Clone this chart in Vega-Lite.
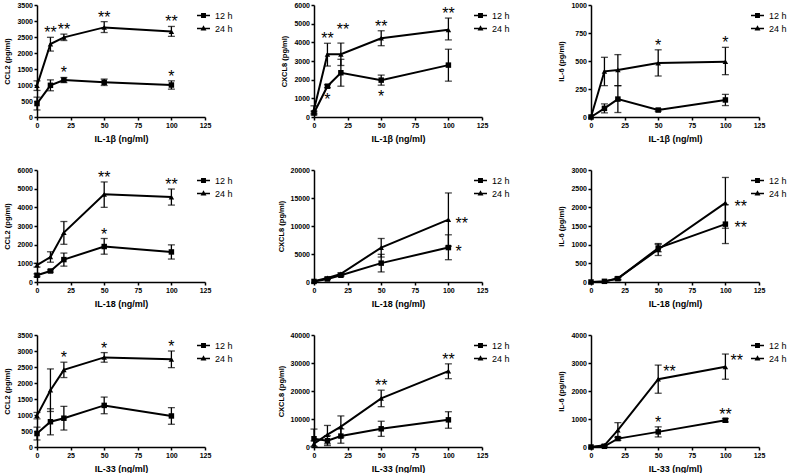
{
"$schema":"https://vega.github.io/schema/vega-lite/v6.json",
"padding":{"left":3,"top":1,"right":5,"bottom":5},
"background":"white",
"data":{"values":[
{"p":1,"s":"12 h","d":0,"m":420,"lo":220,"hi":620},
{"p":1,"s":"12 h","d":10,"m":990,"lo":820,"hi":1160},
{"p":1,"s":"12 h","d":20,"m":1155,"lo":1075,"hi":1235,"sig":"*","pos":"above"},
{"p":1,"s":"12 h","d":50,"m":1085,"lo":985,"hi":1185},
{"p":1,"s":"12 h","d":100,"m":1000,"lo":870,"hi":1130,"sig":"*","pos":"above"},
{"p":1,"s":"24 h","d":0,"m":980,"lo":830,"hi":1130},
{"p":1,"s":"24 h","d":10,"m":2280,"lo":2060,"hi":2490,"sig":"**","pos":"above"},
{"p":1,"s":"24 h","d":20,"m":2490,"lo":2390,"hi":2590,"sig":"**","pos":"above"},
{"p":1,"s":"24 h","d":50,"m":2800,"lo":2640,"hi":2980,"sig":"**","pos":"above"},
{"p":1,"s":"24 h","d":100,"m":2670,"lo":2520,"hi":2830,"sig":"**","pos":"above"},
{"p":2,"s":"12 h","d":0,"m":215,"lo":115,"hi":315},
{"p":2,"s":"12 h","d":10,"m":1650,"lo":1570,"hi":1730,"sig":"*","pos":"below"},
{"p":2,"s":"12 h","d":20,"m":2370,"lo":1650,"hi":3090},
{"p":2,"s":"12 h","d":50,"m":1975,"lo":1705,"hi":2245,"sig":"*","pos":"below"},
{"p":2,"s":"12 h","d":100,"m":2780,"lo":1920,"hi":3630},
{"p":2,"s":"24 h","d":0,"m":400,"lo":200,"hi":600},
{"p":2,"s":"24 h","d":10,"m":3360,"lo":2730,"hi":3950,"sig":"**","pos":"above"},
{"p":2,"s":"24 h","d":20,"m":3360,"lo":2760,"hi":3960,"sig":"**","pos":"above2"},
{"p":2,"s":"24 h","d":50,"m":4220,"lo":3820,"hi":4620,"sig":"**","pos":"above"},
{"p":2,"s":"24 h","d":100,"m":4670,"lo":4130,"hi":5300,"sig":"**","pos":"above"},
{"p":3,"s":"12 h","d":0,"m":0},
{"p":3,"s":"12 h","d":10,"m":77,"lo":37,"hi":117},
{"p":3,"s":"12 h","d":20,"m":160,"lo":40,"hi":280},
{"p":3,"s":"12 h","d":50,"m":62,"lo":52,"hi":72},
{"p":3,"s":"12 h","d":100,"m":152,"lo":102,"hi":202},
{"p":3,"s":"24 h","d":0,"m":0},
{"p":3,"s":"24 h","d":10,"m":408,"lo":280,"hi":533},
{"p":3,"s":"24 h","d":20,"m":420,"lo":280,"hi":557},
{"p":3,"s":"24 h","d":50,"m":482,"lo":366,"hi":600,"sig":"*","pos":"above"},
{"p":3,"s":"24 h","d":100,"m":494,"lo":378,"hi":622,"sig":"*","pos":"above"},
{"p":4,"s":"12 h","d":0,"m":360,"lo":280,"hi":440},
{"p":4,"s":"12 h","d":10,"m":590,"lo":530,"hi":650},
{"p":4,"s":"12 h","d":20,"m":1200,"lo":850,"hi":1550},
{"p":4,"s":"12 h","d":50,"m":1900,"lo":1490,"hi":2330,"sig":"*","pos":"above"},
{"p":4,"s":"12 h","d":100,"m":1610,"lo":1230,"hi":1990},
{"p":4,"s":"24 h","d":0,"m":900,"lo":800,"hi":1000},
{"p":4,"s":"24 h","d":10,"m":1340,"lo":1060,"hi":1620},
{"p":4,"s":"24 h","d":20,"m":2650,"lo":2020,"hi":3240},
{"p":4,"s":"24 h","d":50,"m":4700,"lo":4000,"hi":5360,"sig":"**","pos":"above"},
{"p":4,"s":"24 h","d":100,"m":4550,"lo":4120,"hi":4980,"sig":"**","pos":"above"},
{"p":5,"s":"12 h","d":0,"m":100},
{"p":5,"s":"12 h","d":10,"m":540,"lo":440,"hi":640},
{"p":5,"s":"12 h","d":20,"m":1200,"lo":1000,"hi":1400},
{"p":5,"s":"12 h","d":50,"m":3370,"lo":1800,"hi":4940},
{"p":5,"s":"12 h","d":100,"m":6150,"lo":3980,"hi":8430,"sig":"*","pos":"right"},
{"p":5,"s":"24 h","d":0,"m":150},
{"p":5,"s":"24 h","d":10,"m":720,"lo":570,"hi":870},
{"p":5,"s":"24 h","d":20,"m":1450,"lo":1250,"hi":1650},
{"p":5,"s":"24 h","d":50,"m":6150,"lo":4460,"hi":7770},
{"p":5,"s":"24 h","d":100,"m":11150,"lo":6400,"hi":15900,"sig":"**","pos":"right"},
{"p":6,"s":"12 h","d":0,"m":0},
{"p":6,"s":"12 h","d":10,"m":18},
{"p":6,"s":"12 h","d":20,"m":90,"lo":50,"hi":130},
{"p":6,"s":"12 h","d":50,"m":910,"lo":810,"hi":1010},
{"p":6,"s":"12 h","d":100,"m":1550,"lo":1030,"hi":2070,"sig":"**","pos":"right"},
{"p":6,"s":"24 h","d":0,"m":0},
{"p":6,"s":"24 h","d":10,"m":10},
{"p":6,"s":"24 h","d":20,"m":100,"lo":70,"hi":130},
{"p":6,"s":"24 h","d":50,"m":870,"lo":710,"hi":1030},
{"p":6,"s":"24 h","d":100,"m":2120,"lo":1440,"hi":2800,"sig":"**","pos":"right"},
{"p":7,"s":"12 h","d":0,"m":420,"lo":220,"hi":620},
{"p":7,"s":"12 h","d":10,"m":790,"lo":380,"hi":1195},
{"p":7,"s":"12 h","d":20,"m":900,"lo":530,"hi":1270},
{"p":7,"s":"12 h","d":50,"m":1300,"lo":1040,"hi":1560},
{"p":7,"s":"12 h","d":100,"m":970,"lo":710,"hi":1230},
{"p":7,"s":"24 h","d":0,"m":980,"lo":880,"hi":1080},
{"p":7,"s":"24 h","d":10,"m":1775,"lo":1110,"hi":2440},
{"p":7,"s":"24 h","d":20,"m":2410,"lo":2170,"hi":2650,"sig":"*","pos":"above"},
{"p":7,"s":"24 h","d":50,"m":2800,"lo":2650,"hi":2950,"sig":"*","pos":"above"},
{"p":7,"s":"24 h","d":100,"m":2740,"lo":2480,"hi":3000,"sig":"*","pos":"above"},
{"p":8,"s":"12 h","d":0,"m":2950,"lo":0,"hi":6400},
{"p":8,"s":"12 h","d":10,"m":2240,"lo":500,"hi":4000},
{"p":8,"s":"12 h","d":20,"m":3900,"lo":1350,"hi":6450},
{"p":8,"s":"12 h","d":50,"m":6500,"lo":3800,"hi":9200},
{"p":8,"s":"12 h","d":100,"m":9700,"lo":6700,"hi":12600},
{"p":8,"s":"24 h","d":0,"m":1200,"lo":200,"hi":2200},
{"p":8,"s":"24 h","d":10,"m":4400,"lo":1100,"hi":7700},
{"p":8,"s":"24 h","d":20,"m":7300,"lo":3500,"hi":11100},
{"p":8,"s":"24 h","d":50,"m":17350,"lo":14400,"hi":20300,"sig":"**","pos":"above"},
{"p":8,"s":"24 h","d":100,"m":27100,"lo":24400,"hi":29700,"sig":"**","pos":"above"},
{"p":9,"s":"12 h","d":0,"m":0},
{"p":9,"s":"12 h","d":10,"m":25},
{"p":9,"s":"12 h","d":20,"m":300,"lo":240,"hi":360},
{"p":9,"s":"12 h","d":50,"m":540,"lo":360,"hi":720,"sig":"*","pos":"above"},
{"p":9,"s":"12 h","d":100,"m":955,"lo":895,"hi":1015,"sig":"**","pos":"above"},
{"p":9,"s":"24 h","d":0,"m":0},
{"p":9,"s":"24 h","d":10,"m":60,"lo":30,"hi":90},
{"p":9,"s":"24 h","d":20,"m":600,"lo":330,"hi":870},
{"p":9,"s":"24 h","d":50,"m":2420,"lo":1920,"hi":2925,"sig":"**","pos":"upright"},
{"p":9,"s":"24 h","d":100,"m":2865,"lo":2420,"hi":3320,"sig":"**","pos":"upright"}
]},
"columns":3,
"bounds":"flush",
"spacing":{"row":53,"column":109},
"resolve":{"scale":{"shape":"independent"},"legend":{"shape":"independent"}},
"concat":[
{"width":168,"height":112,"transform":[{"filter":"datum.p==1"}],
 "encoding":{"x":{"field":"d","type":"quantitative","scale":{"domain":[0,125],"nice":false},"axis":{"values":[0,25,50,75,100,125],"title":"IL-1β (ng/ml)"}},
  "y":{"field":"m","type":"quantitative","scale":{"domain":[0,3500],"nice":false},"axis":{"values":[0,500,1000,1500,2000,2500,3000,3500],"format":"d","title":"CCL2 (pg/ml)"}}},
 "layer":[
  {"mark":{"type":"line","color":"black","strokeWidth":2},"encoding":{"detail":{"field":"s"}}},
  {"transform":[{"filter":"isValid(datum.lo)"}],"mark":{"type":"errorbar","ticks":true,"size":7,"thickness":1.3,"color":"black"},"encoding":{"y":{"field":"lo","type":"quantitative"},"y2":{"field":"hi"}}},
  {"mark":{"type":"point","filled":true,"size":30,"color":"black","opacity":1},"encoding":{"shape":{"condition":{"test":"datum.s=='12 h'","value":"square"},"value":"triangle-up"}}},
  {"transform":[{"filter":"datum.p<0"}],"mark":{"type":"point","filled":true,"color":"black","opacity":1},"encoding":{"shape":{"field":"s","type":"nominal","title":null,"scale":{"domain":["12 h","24 h"],"range":["M-1,-0.13H1V0.13H-1ZM-0.38,-0.38H0.38V0.38H-0.38Z","M-1,-0.13H1V0.13H-1ZM0,-0.5L0.45,0.32H-0.45Z"]},"legend":{"orient":"none","legendX":159,"legendY":3}}}},
  {"transform":[{"filter":"datum.pos=='above'"}],"mark":{"type":"text","fontSize":16,"baseline":"alphabetic","dy":1},"encoding":{"y":{"field":"hi","type":"quantitative"},"text":{"field":"sig"}}}
 ]},
{"width":168,"height":112,"transform":[{"filter":"datum.p==2"}],
 "encoding":{"x":{"field":"d","type":"quantitative","scale":{"domain":[0,125],"nice":false},"axis":{"values":[0,25,50,75,100,125],"title":"IL-1β (ng/ml)"}},
  "y":{"field":"m","type":"quantitative","scale":{"domain":[0,6000],"nice":false},"axis":{"values":[0,1000,2000,3000,4000,5000,6000],"format":"d","title":"CXCL8 (pg/ml)"}}},
 "layer":[
  {"mark":{"type":"line","color":"black","strokeWidth":2},"encoding":{"detail":{"field":"s"}}},
  {"transform":[{"filter":"isValid(datum.lo)"}],"mark":{"type":"errorbar","ticks":true,"size":7,"thickness":1.3,"color":"black"},"encoding":{"y":{"field":"lo","type":"quantitative"},"y2":{"field":"hi"}}},
  {"mark":{"type":"point","filled":true,"size":30,"color":"black","opacity":1},"encoding":{"shape":{"condition":{"test":"datum.s=='12 h'","value":"square"},"value":"triangle-up"}}},
  {"transform":[{"filter":"datum.p<0"}],"mark":{"type":"point","filled":true,"color":"black","opacity":1},"encoding":{"shape":{"field":"s","type":"nominal","title":null,"scale":{"domain":["12 h","24 h"],"range":["M-1,-0.13H1V0.13H-1ZM-0.38,-0.38H0.38V0.38H-0.38Z","M-1,-0.13H1V0.13H-1ZM0,-0.5L0.45,0.32H-0.45Z"]},"legend":{"orient":"none","legendX":159,"legendY":3}}}},
  {"transform":[{"filter":"datum.pos=='above'"}],"mark":{"type":"text","fontSize":16,"baseline":"alphabetic","dy":1},"encoding":{"y":{"field":"hi","type":"quantitative"},"text":{"field":"sig"}}},
  {"transform":[{"filter":"datum.pos=='above2'"}],"mark":{"type":"text","fontSize":16,"baseline":"alphabetic","dx":2,"dy":-8},"encoding":{"y":{"field":"hi","type":"quantitative"},"text":{"field":"sig"}}},
  {"transform":[{"filter":"datum.pos=='below'"}],"mark":{"type":"text","fontSize":16,"baseline":"alphabetic","dy":17},"encoding":{"y":{"field":"lo","type":"quantitative"},"text":{"field":"sig"}}}
 ]},
{"width":168,"height":112,"transform":[{"filter":"datum.p==3"}],
 "encoding":{"x":{"field":"d","type":"quantitative","scale":{"domain":[0,125],"nice":false},"axis":{"values":[0,25,50,75,100,125],"title":"IL-1β (ng/ml)"}},
  "y":{"field":"m","type":"quantitative","scale":{"domain":[0,1000],"nice":false},"axis":{"values":[0,250,500,750,1000],"format":"d","title":"IL-6 (pg/ml)"}}},
 "layer":[
  {"mark":{"type":"line","color":"black","strokeWidth":2},"encoding":{"detail":{"field":"s"}}},
  {"transform":[{"filter":"isValid(datum.lo)"}],"mark":{"type":"errorbar","ticks":true,"size":7,"thickness":1.3,"color":"black"},"encoding":{"y":{"field":"lo","type":"quantitative"},"y2":{"field":"hi"}}},
  {"mark":{"type":"point","filled":true,"size":30,"color":"black","opacity":1},"encoding":{"shape":{"condition":{"test":"datum.s=='12 h'","value":"square"},"value":"triangle-up"}}},
  {"transform":[{"filter":"datum.p<0"}],"mark":{"type":"point","filled":true,"color":"black","opacity":1},"encoding":{"shape":{"field":"s","type":"nominal","title":null,"scale":{"domain":["12 h","24 h"],"range":["M-1,-0.13H1V0.13H-1ZM-0.38,-0.38H0.38V0.38H-0.38Z","M-1,-0.13H1V0.13H-1ZM0,-0.5L0.45,0.32H-0.45Z"]},"legend":{"orient":"none","legendX":159,"legendY":3}}}},
  {"transform":[{"filter":"datum.pos=='above'"}],"mark":{"type":"text","fontSize":16,"baseline":"alphabetic","dy":1},"encoding":{"y":{"field":"hi","type":"quantitative"},"text":{"field":"sig"}}}
 ]},
{"width":168,"height":112,"transform":[{"filter":"datum.p==4"}],
 "encoding":{"x":{"field":"d","type":"quantitative","scale":{"domain":[0,125],"nice":false},"axis":{"values":[0,25,50,75,100,125],"title":"IL-18 (ng/ml)"}},
  "y":{"field":"m","type":"quantitative","scale":{"domain":[0,6000],"nice":false},"axis":{"values":[0,1000,2000,3000,4000,5000,6000],"format":"d","title":"CCL2 (pg/ml)"}}},
 "layer":[
  {"mark":{"type":"line","color":"black","strokeWidth":2},"encoding":{"detail":{"field":"s"}}},
  {"transform":[{"filter":"isValid(datum.lo)"}],"mark":{"type":"errorbar","ticks":true,"size":7,"thickness":1.3,"color":"black"},"encoding":{"y":{"field":"lo","type":"quantitative"},"y2":{"field":"hi"}}},
  {"mark":{"type":"point","filled":true,"size":30,"color":"black","opacity":1},"encoding":{"shape":{"condition":{"test":"datum.s=='12 h'","value":"square"},"value":"triangle-up"}}},
  {"transform":[{"filter":"datum.p<0"}],"mark":{"type":"point","filled":true,"color":"black","opacity":1},"encoding":{"shape":{"field":"s","type":"nominal","title":null,"scale":{"domain":["12 h","24 h"],"range":["M-1,-0.13H1V0.13H-1ZM-0.38,-0.38H0.38V0.38H-0.38Z","M-1,-0.13H1V0.13H-1ZM0,-0.5L0.45,0.32H-0.45Z"]},"legend":{"orient":"none","legendX":159,"legendY":3}}}},
  {"transform":[{"filter":"datum.pos=='above'"}],"mark":{"type":"text","fontSize":16,"baseline":"alphabetic","dy":1},"encoding":{"y":{"field":"hi","type":"quantitative"},"text":{"field":"sig"}}}
 ]},
{"width":168,"height":112,"transform":[{"filter":"datum.p==5"}],
 "encoding":{"x":{"field":"d","type":"quantitative","scale":{"domain":[0,125],"nice":false},"axis":{"values":[0,25,50,75,100,125],"title":"IL-18 (ng/ml)"}},
  "y":{"field":"m","type":"quantitative","scale":{"domain":[0,20000],"nice":false},"axis":{"values":[0,5000,10000,15000,20000],"format":"d","title":"CXCL8 (pg/ml)"}}},
 "layer":[
  {"mark":{"type":"line","color":"black","strokeWidth":2},"encoding":{"detail":{"field":"s"}}},
  {"transform":[{"filter":"isValid(datum.lo)"}],"mark":{"type":"errorbar","ticks":true,"size":7,"thickness":1.3,"color":"black"},"encoding":{"y":{"field":"lo","type":"quantitative"},"y2":{"field":"hi"}}},
  {"mark":{"type":"point","filled":true,"size":30,"color":"black","opacity":1},"encoding":{"shape":{"condition":{"test":"datum.s=='12 h'","value":"square"},"value":"triangle-up"}}},
  {"transform":[{"filter":"datum.p<0"}],"mark":{"type":"point","filled":true,"color":"black","opacity":1},"encoding":{"shape":{"field":"s","type":"nominal","title":null,"scale":{"domain":["12 h","24 h"],"range":["M-1,-0.13H1V0.13H-1ZM-0.38,-0.38H0.38V0.38H-0.38Z","M-1,-0.13H1V0.13H-1ZM0,-0.5L0.45,0.32H-0.45Z"]},"legend":{"orient":"none","legendX":159,"legendY":3}}}},
  {"transform":[{"filter":"datum.pos=='right'"}],"mark":{"type":"text","fontSize":16,"baseline":"alphabetic","align":"left","dx":7,"dy":9},"encoding":{"text":{"field":"sig"}}}
 ]},
{"width":168,"height":112,"transform":[{"filter":"datum.p==6"}],
 "encoding":{"x":{"field":"d","type":"quantitative","scale":{"domain":[0,125],"nice":false},"axis":{"values":[0,25,50,75,100,125],"title":"IL-18 (ng/ml)"}},
  "y":{"field":"m","type":"quantitative","scale":{"domain":[0,3000],"nice":false},"axis":{"values":[0,500,1000,1500,2000,2500,3000],"format":"d","title":"IL-6 (pg/ml)"}}},
 "layer":[
  {"mark":{"type":"line","color":"black","strokeWidth":2},"encoding":{"detail":{"field":"s"}}},
  {"transform":[{"filter":"isValid(datum.lo)"}],"mark":{"type":"errorbar","ticks":true,"size":7,"thickness":1.3,"color":"black"},"encoding":{"y":{"field":"lo","type":"quantitative"},"y2":{"field":"hi"}}},
  {"mark":{"type":"point","filled":true,"size":30,"color":"black","opacity":1},"encoding":{"shape":{"condition":{"test":"datum.s=='12 h'","value":"square"},"value":"triangle-up"}}},
  {"transform":[{"filter":"datum.p<0"}],"mark":{"type":"point","filled":true,"color":"black","opacity":1},"encoding":{"shape":{"field":"s","type":"nominal","title":null,"scale":{"domain":["12 h","24 h"],"range":["M-1,-0.13H1V0.13H-1ZM-0.38,-0.38H0.38V0.38H-0.38Z","M-1,-0.13H1V0.13H-1ZM0,-0.5L0.45,0.32H-0.45Z"]},"legend":{"orient":"none","legendX":159,"legendY":3}}}},
  {"transform":[{"filter":"datum.pos=='right'"}],"mark":{"type":"text","fontSize":16,"baseline":"alphabetic","align":"left","dx":9,"dy":9},"encoding":{"text":{"field":"sig"}}}
 ]},
{"width":168,"height":112,"transform":[{"filter":"datum.p==7"}],
 "encoding":{"x":{"field":"d","type":"quantitative","scale":{"domain":[0,125],"nice":false},"axis":{"values":[0,25,50,75,100,125],"title":"IL-33 (ng/ml)"}},
  "y":{"field":"m","type":"quantitative","scale":{"domain":[0,3500],"nice":false},"axis":{"values":[0,500,1000,1500,2000,2500,3000,3500],"format":"d","title":"CCL2 (pg/ml)"}}},
 "layer":[
  {"mark":{"type":"line","color":"black","strokeWidth":2},"encoding":{"detail":{"field":"s"}}},
  {"transform":[{"filter":"isValid(datum.lo)"}],"mark":{"type":"errorbar","ticks":true,"size":7,"thickness":1.3,"color":"black"},"encoding":{"y":{"field":"lo","type":"quantitative"},"y2":{"field":"hi"}}},
  {"mark":{"type":"point","filled":true,"size":30,"color":"black","opacity":1},"encoding":{"shape":{"condition":{"test":"datum.s=='12 h'","value":"square"},"value":"triangle-up"}}},
  {"transform":[{"filter":"datum.p<0"}],"mark":{"type":"point","filled":true,"color":"black","opacity":1},"encoding":{"shape":{"field":"s","type":"nominal","title":null,"scale":{"domain":["12 h","24 h"],"range":["M-1,-0.13H1V0.13H-1ZM-0.38,-0.38H0.38V0.38H-0.38Z","M-1,-0.13H1V0.13H-1ZM0,-0.5L0.45,0.32H-0.45Z"]},"legend":{"orient":"none","legendX":159,"legendY":3}}}},
  {"transform":[{"filter":"datum.pos=='above'"}],"mark":{"type":"text","fontSize":16,"baseline":"alphabetic","dy":1},"encoding":{"y":{"field":"hi","type":"quantitative"},"text":{"field":"sig"}}}
 ]},
{"width":168,"height":112,"transform":[{"filter":"datum.p==8"}],
 "encoding":{"x":{"field":"d","type":"quantitative","scale":{"domain":[0,125],"nice":false},"axis":{"values":[0,25,50,75,100,125],"title":"IL-33 (ng/ml)"}},
  "y":{"field":"m","type":"quantitative","scale":{"domain":[0,40000],"nice":false},"axis":{"values":[0,10000,20000,30000,40000],"format":"d","title":"CXCL8 (pg/ml)"}}},
 "layer":[
  {"mark":{"type":"line","color":"black","strokeWidth":2},"encoding":{"detail":{"field":"s"}}},
  {"transform":[{"filter":"isValid(datum.lo)"}],"mark":{"type":"errorbar","ticks":true,"size":7,"thickness":1.3,"color":"black"},"encoding":{"y":{"field":"lo","type":"quantitative"},"y2":{"field":"hi"}}},
  {"mark":{"type":"point","filled":true,"size":30,"color":"black","opacity":1},"encoding":{"shape":{"condition":{"test":"datum.s=='12 h'","value":"square"},"value":"triangle-up"}}},
  {"transform":[{"filter":"datum.p<0"}],"mark":{"type":"point","filled":true,"color":"black","opacity":1},"encoding":{"shape":{"field":"s","type":"nominal","title":null,"scale":{"domain":["12 h","24 h"],"range":["M-1,-0.13H1V0.13H-1ZM-0.38,-0.38H0.38V0.38H-0.38Z","M-1,-0.13H1V0.13H-1ZM0,-0.5L0.45,0.32H-0.45Z"]},"legend":{"orient":"none","legendX":159,"legendY":3}}}},
  {"transform":[{"filter":"datum.pos=='above'"}],"mark":{"type":"text","fontSize":16,"baseline":"alphabetic","dy":1},"encoding":{"y":{"field":"hi","type":"quantitative"},"text":{"field":"sig"}}}
 ]},
{"width":168,"height":112,"transform":[{"filter":"datum.p==9"}],
 "encoding":{"x":{"field":"d","type":"quantitative","scale":{"domain":[0,125],"nice":false},"axis":{"values":[0,25,50,75,100,125],"title":"IL-33 (ng/ml)"}},
  "y":{"field":"m","type":"quantitative","scale":{"domain":[0,4000],"nice":false},"axis":{"values":[0,1000,2000,3000,4000],"format":"d","title":"IL-6 (pg/ml)"}}},
 "layer":[
  {"mark":{"type":"line","color":"black","strokeWidth":2},"encoding":{"detail":{"field":"s"}}},
  {"transform":[{"filter":"isValid(datum.lo)"}],"mark":{"type":"errorbar","ticks":true,"size":7,"thickness":1.3,"color":"black"},"encoding":{"y":{"field":"lo","type":"quantitative"},"y2":{"field":"hi"}}},
  {"mark":{"type":"point","filled":true,"size":30,"color":"black","opacity":1},"encoding":{"shape":{"condition":{"test":"datum.s=='12 h'","value":"square"},"value":"triangle-up"}}},
  {"transform":[{"filter":"datum.p<0"}],"mark":{"type":"point","filled":true,"color":"black","opacity":1},"encoding":{"shape":{"field":"s","type":"nominal","title":null,"scale":{"domain":["12 h","24 h"],"range":["M-1,-0.13H1V0.13H-1ZM-0.38,-0.38H0.38V0.38H-0.38Z","M-1,-0.13H1V0.13H-1ZM0,-0.5L0.45,0.32H-0.45Z"]},"legend":{"orient":"none","legendX":159,"legendY":3}}}},
  {"transform":[{"filter":"datum.pos=='above'"}],"mark":{"type":"text","fontSize":16,"baseline":"alphabetic","dy":1},"encoding":{"y":{"field":"hi","type":"quantitative"},"text":{"field":"sig"}}},
  {"transform":[{"filter":"datum.pos=='upright'"}],"mark":{"type":"text","fontSize":16,"baseline":"alphabetic","align":"left","dx":5,"dy":12},"encoding":{"y":{"field":"hi","type":"quantitative"},"text":{"field":"sig"}}}
 ]}
],
"config":{
 "font":"Liberation Sans",
 "view":{"stroke":null},
 "axis":{"grid":false,"domainColor":"black","domainWidth":1.5,"tickColor":"black","tickWidth":1.5,"tickSize":3,"labelFont":"Liberation Sans","labelFontWeight":"bold","labelFontSize":7,"labelColor":"black","labelPadding":1.5,"titleFont":"Liberation Sans","titleFontWeight":"bold","titleColor":"black"},
 "axisX":{"titleFontSize":9,"titlePadding":6,"labelFlush":false},
 "axisY":{"titleFontSize":7.5,"titlePadding":5},
 "legend":{"labelFont":"Liberation Sans","labelFontSize":9,"labelColor":"black","padding":0,"symbolSize":169,"labelOffset":4,"rowPadding":-2},
 "text":{"font":"Liberation Sans","color":"black"}
}
}
